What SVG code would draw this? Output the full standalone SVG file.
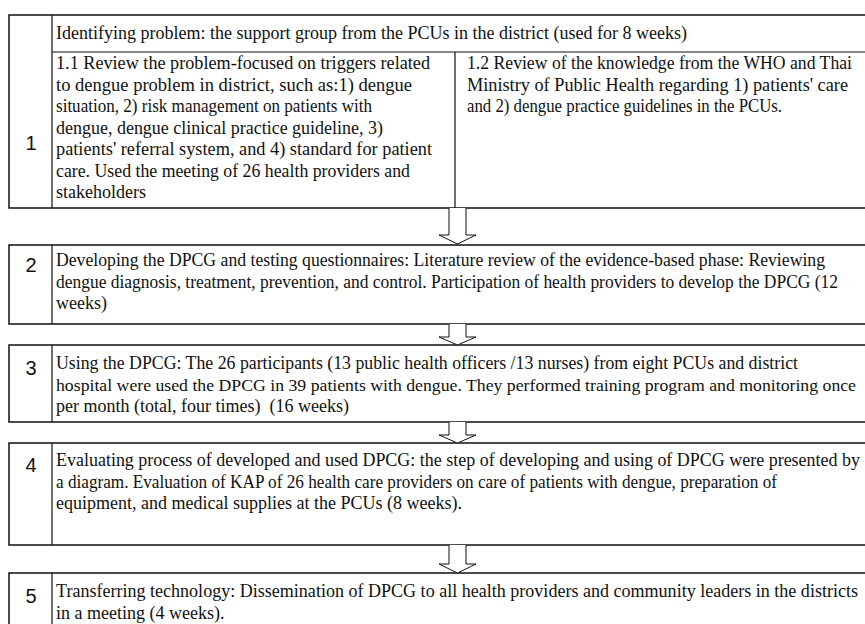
<svg xmlns="http://www.w3.org/2000/svg" width="865" height="624" viewBox="0 0 865 624">
<style>
.box{fill:none;stroke:#111;stroke-width:1.5}
.sep{fill:none;stroke:#111;stroke-width:1.2}
.t{font-family:"Liberation Serif","Times New Roman",serif;font-size:18px;fill:#111}
.n{font-family:"Liberation Sans",Arial,sans-serif;font-size:20px;fill:#111;text-anchor:middle}
.arr{fill:#fff;stroke:#111;stroke-width:1}
</style>
<rect width="865" height="624" fill="#fff"/>
<g id="step1">
<path class="box" d="M866,15 H9 V208 H866"/>
<path class="sep" d="M52,15 V208 M52,52 H866 M455,52 V208"/>
<text class="n" x="31" y="150">1</text>
<text class="t" x="56" y="39" textLength="631" lengthAdjust="spacingAndGlyphs">Identifying problem:  the support group from the PCUs in the district (used for 8 weeks)</text>
<text class="t" x="56" y="69" textLength="374" lengthAdjust="spacingAndGlyphs">1.1 Review the problem-focused on triggers related</text>
<text class="t" x="56" y="90.5" textLength="356" lengthAdjust="spacingAndGlyphs">to dengue problem in district, such as:1) dengue</text>
<text class="t" x="56" y="112" textLength="316" lengthAdjust="spacingAndGlyphs">situation, 2) risk management on patients with</text>
<text class="t" x="56" y="133.5" textLength="327" lengthAdjust="spacingAndGlyphs">dengue, dengue clinical practice guideline, 3)</text>
<text class="t" x="56" y="155" textLength="376" lengthAdjust="spacingAndGlyphs">patients' referral system, and 4) standard for patient</text>
<text class="t" x="56" y="176.5" textLength="354" lengthAdjust="spacingAndGlyphs">care. Used the meeting of 26 health providers and</text>
<text class="t" x="56" y="198">stakeholders</text>
<text class="t" x="467" y="69" textLength="385" lengthAdjust="spacingAndGlyphs">1.2 Review of the knowledge from the WHO and Thai</text>
<text class="t" x="467" y="90.5" textLength="381" lengthAdjust="spacingAndGlyphs">Ministry of Public Health regarding 1) patients' care</text>
<text class="t" x="467" y="112" textLength="315" lengthAdjust="spacingAndGlyphs">and 2) dengue practice guidelines in the PCUs.</text>
</g>
<g id="step2">
<path class="box" d="M866,245 H9 V324 H866"/>
<path class="sep" d="M52,245 V324"/>
<text class="n" x="31" y="272">2</text>
<text class="t" x="56" y="266" textLength="769" lengthAdjust="spacingAndGlyphs">Developing the DPCG and testing questionnaires: Literature review of the evidence-based phase: Reviewing</text>
<text class="t" x="56" y="287.5" textLength="782" lengthAdjust="spacingAndGlyphs">dengue diagnosis, treatment, prevention, and control. Participation of health providers to develop the DPCG (12</text>
<text class="t" x="56" y="309">weeks)</text>
</g>
<g id="step3">
<path class="box" d="M866,345 H9 V422 H866"/>
<path class="sep" d="M52,345 V422"/>
<text class="n" x="31" y="375">3</text>
<text class="t" x="56" y="369" textLength="742" lengthAdjust="spacingAndGlyphs">Using the DPCG: The 26 participants (13 public health officers /13 nurses) from eight PCUs and district</text>
<text class="t" x="56" y="390.5" style="font-size:17.6px" textLength="800" lengthAdjust="spacingAndGlyphs">hospital were used the DPCG in 39 patients with dengue. They performed training program and monitoring once</text>
<text class="t" x="56" y="412" xml:space="preserve">per month (total, four times)  (16 weeks)</text>
</g>
<g id="step4">
<path class="box" d="M866,443 H9 V545 H866"/>
<path class="sep" d="M52,443 V545"/>
<text class="n" x="31" y="472">4</text>
<text class="t" x="56" y="466" textLength="804" lengthAdjust="spacingAndGlyphs">Evaluating process of developed and used DPCG: the step of developing and using of DPCG were presented by</text>
<text class="t" x="56" y="487.5" textLength="721" lengthAdjust="spacingAndGlyphs">a diagram. Evaluation of KAP of 26 health care providers on care of patients with dengue, preparation of</text>
<text class="t" x="56" y="509">equipment, and medical supplies at the PCUs (8 weeks).</text>
</g>
<g id="step5">
<path class="box" d="M866,573 H9 V626"/>
<path class="sep" d="M52,573 V626"/>
<text class="n" x="31" y="603">5</text>
<text class="t" x="56" y="597" textLength="802" lengthAdjust="spacingAndGlyphs">Transferring technology: Dissemination of DPCG to all health providers and community leaders in the districts</text>
<text class="t" x="56" y="618.5">in a meeting (4 weeks).</text>
</g>
<g id="connectors">
<path class="arr" d="M449,208 V235 H439 L457.5,244 L476,235 H466 V208"/>
<path class="arr" d="M449,324 V337 H439 L457.5,345 L476,337 H466 V324"/>
<path class="arr" d="M449,422 V435 H439 L457.5,443 L476,435 H466 V422"/>
<path class="arr" d="M449,545 V564 H439 L457.5,573 L476,564 H466 V545"/>
</g>
</svg>
